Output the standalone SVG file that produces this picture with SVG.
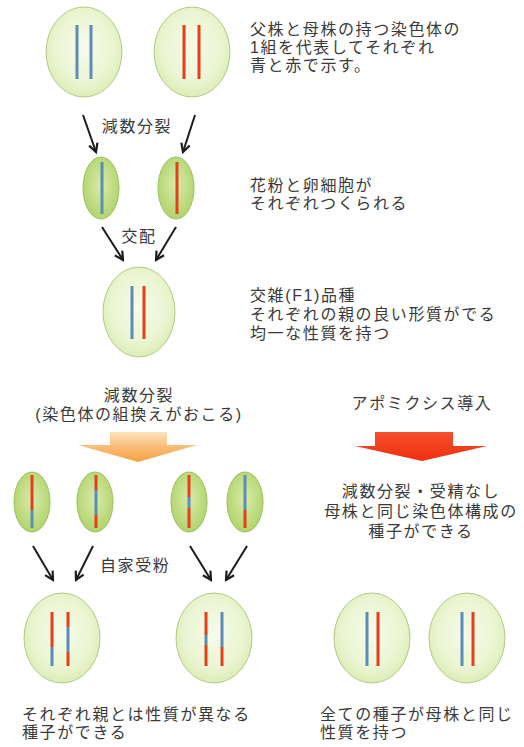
<svg xmlns="http://www.w3.org/2000/svg" width="524" height="747" viewBox="0 0 524 747">
  <style>
    text { font-family: "Liberation Sans", "Noto Sans CJK JP", sans-serif; font-size: 16px; fill: #3a3a3a; letter-spacing: 1.6px; }
    .mid { text-anchor: middle; }
    .cell { fill: url(#cellFill); stroke: #b3c98a; stroke-width: 1; }
    .gamete { fill: url(#gameteFill); stroke: #9cbf62; stroke-width: 1; }
    .b { stroke: #5d8db5; stroke-width: 3; fill: none; }
    .r { stroke: #e4401c; stroke-width: 3; fill: none; }
    .arrow { stroke: #1c1c1c; stroke-width: 2; fill: none; marker-end: url(#head); }
  </style>
  <defs>
    <radialGradient id="cellFill" cx="50%" cy="45%" r="55%">
      <stop offset="0" stop-color="#f6fbe9"/>
      <stop offset="0.7" stop-color="#ebf5d2"/>
      <stop offset="1" stop-color="#dcedb6"/>
    </radialGradient>
    <radialGradient id="gameteFill" cx="50%" cy="45%" r="55%">
      <stop offset="0" stop-color="#d9ebac"/>
      <stop offset="1" stop-color="#b2d46c"/>
    </radialGradient>
    <linearGradient id="orangeFill" x1="0" y1="0" x2="0" y2="1">
      <stop offset="0" stop-color="#fde2bd"/>
      <stop offset="0.5" stop-color="#f9bd77"/>
      <stop offset="1" stop-color="#f6a040"/>
    </linearGradient>
    <linearGradient id="redFill" x1="0" y1="0" x2="0" y2="1">
      <stop offset="0" stop-color="#f5502c"/>
      <stop offset="1" stop-color="#ee2f10"/>
    </linearGradient>
    <marker id="head" viewBox="0 0 10 10" refX="8.5" refY="5" markerWidth="11" markerHeight="11" markerUnits="userSpaceOnUse" orient="auto">
      <path d="M1,1 L8.5,5 L1,9" fill="none" stroke="#1c1c1c" stroke-width="2"/>
    </marker>
  </defs>

  <!-- parent plants -->
  <g id="father">
    <ellipse class="cell" cx="84" cy="52" rx="38" ry="45"/>
    <line class="b" x1="77" y1="25" x2="77" y2="79"/>
    <line class="b" x1="91" y1="25" x2="91" y2="79"/>
  </g>
  <g id="mother">
    <ellipse class="cell" cx="192" cy="52" rx="38" ry="45"/>
    <line class="r" x1="184" y1="25" x2="184" y2="79"/>
    <line class="r" x1="199" y1="25" x2="199" y2="79"/>
  </g>
  <g id="note-parents">
    <text x="250" y="35">父株と母株の持つ染色体の<tspan x="250" dy="18">1組を代表してそれぞれ</tspan><tspan x="250" dy="18">青と赤で示す。</tspan></text>
  </g>

  <!-- gametes -->
  <g id="pollen">
    <ellipse class="gamete" cx="101" cy="188" rx="18" ry="31"/>
    <line class="b" x1="102" y1="162" x2="102" y2="214"/>
  </g>
  <g id="egg">
    <ellipse class="gamete" cx="176" cy="188" rx="18" ry="31"/>
    <line class="r" x1="177" y1="162" x2="177" y2="214"/>
  </g>
  <g id="note-gametes">
    <text x="250" y="191">花粉と卵細胞が<tspan x="250" dy="18">それぞれつくられる</tspan></text>
  </g>

  <!-- F1 hybrid -->
  <g id="f1">
    <ellipse class="cell" cx="139" cy="312" rx="36" ry="45"/>
    <line class="b" x1="132" y1="286" x2="132" y2="339"/>
    <line class="r" x1="144" y1="286" x2="144" y2="339"/>
  </g>
  <g id="note-f1">
    <text x="250" y="301">交雑(F1)品種<tspan x="250" dy="19">それぞれの親の良い形質がでる</tspan><tspan x="250" dy="19">均一な性質を持つ</tspan></text>
  </g>

  <!-- sexual route -->
  <g id="meiosis-label">
    <text class="mid" x="139" y="401">減数分裂<tspan x="139" dy="19">(染色体の組換えがおこる)</tspan></text>
  </g>
  <g id="orange-arrow">
    <path d="M110,432 H167 V445 H197 L138,462 L78,445 H110 Z" fill="url(#orangeFill)"/>
  </g>

  <g id="gamete-1">
    <ellipse class="gamete" cx="32" cy="502" rx="18" ry="30"/>
    <line class="r" x1="32" y1="475" x2="32" y2="510"/>
    <line class="b" x1="32" y1="510" x2="32" y2="528"/>
  </g>
  <g id="gamete-2">
    <ellipse class="gamete" cx="95" cy="502" rx="18" ry="30"/>
    <line class="r" x1="96" y1="475" x2="96" y2="490"/>
    <line class="b" x1="96" y1="490" x2="96" y2="515"/>
    <line class="r" x1="96" y1="515" x2="96" y2="528"/>
  </g>
  <g id="gamete-3">
    <ellipse class="gamete" cx="189" cy="502" rx="18" ry="30"/>
    <line class="r" x1="189" y1="475" x2="189" y2="497"/>
    <line class="b" x1="189" y1="497" x2="189" y2="508"/>
    <line class="r" x1="189" y1="508" x2="189" y2="528"/>
  </g>
  <g id="gamete-4">
    <ellipse class="gamete" cx="245" cy="502" rx="18" ry="30"/>
    <line class="b" x1="245" y1="475" x2="245" y2="510"/>
    <line class="r" x1="245" y1="510" x2="245" y2="528"/>
  </g>

  <g id="selfing-label">
    <text x="100" y="571">自家受粉</text>
  </g>

  <g id="offspring-1">
    <ellipse class="cell" cx="62" cy="638" rx="38" ry="45"/>
    <line class="r" x1="52" y1="612" x2="52" y2="647"/>
    <line class="b" x1="52" y1="647" x2="52" y2="666"/>
    <line class="r" x1="68" y1="612" x2="68" y2="627"/>
    <line class="b" x1="68" y1="627" x2="68" y2="652"/>
    <line class="r" x1="68" y1="652" x2="68" y2="666"/>
  </g>
  <g id="offspring-2">
    <ellipse class="cell" cx="214" cy="638" rx="38" ry="45"/>
    <line class="r" x1="206" y1="612" x2="206" y2="635"/>
    <line class="b" x1="206" y1="635" x2="206" y2="645"/>
    <line class="r" x1="206" y1="645" x2="206" y2="666"/>
    <line class="b" x1="222" y1="612" x2="222" y2="647"/>
    <line class="r" x1="222" y1="647" x2="222" y2="666"/>
  </g>
  <g id="note-sexual">
    <text x="22" y="720">それぞれ親とは性質が異なる<tspan x="22" dy="18">種子ができる</tspan></text>
  </g>

  <!-- apomictic route -->
  <g id="apomixis-label">
    <text class="mid" x="422" y="409">アポミクシス導入</text>
  </g>
  <g id="red-arrow">
    <path d="M375,432 H453 V446 H487 L422,461 L355,446 H375 Z" fill="url(#redFill)"/>
  </g>
  <g id="note-apomixis">
    <text class="mid" x="421" y="497">減数分裂・受精なし<tspan x="421" dy="20">母株と同じ染色体構成の</tspan><tspan x="421" dy="20">種子ができる</tspan></text>
  </g>
  <g id="clone-1">
    <ellipse class="cell" cx="372" cy="638" rx="38" ry="45"/>
    <line class="b" x1="367" y1="612" x2="367" y2="666"/>
    <line class="r" x1="378" y1="612" x2="378" y2="666"/>
  </g>
  <g id="clone-2">
    <ellipse class="cell" cx="467" cy="638" rx="38" ry="45"/>
    <line class="b" x1="462" y1="612" x2="462" y2="666"/>
    <line class="r" x1="473" y1="612" x2="473" y2="666"/>
  </g>
  <g id="note-clones">
    <text x="320" y="720">全ての種子が母株と同じ<tspan x="320" dy="18">性質を持つ</tspan></text>
  </g>

  <!-- connectors -->
  <g id="connectors">
    <line class="arrow" x1="83" y1="115" x2="96" y2="152"/>
    <line class="arrow" x1="195" y1="115" x2="183" y2="152"/>
    <text class="mid" x="137" y="132">減数分裂</text>
    <line class="arrow" x1="102" y1="227" x2="123" y2="260"/>
    <line class="arrow" x1="176" y1="227" x2="156" y2="260"/>
    <text class="mid" x="139" y="242">交配</text>
    <line class="arrow" x1="33" y1="546" x2="53" y2="580"/>
    <line class="arrow" x1="93" y1="546" x2="76" y2="580"/>
    <line class="arrow" x1="190" y1="546" x2="211" y2="580"/>
    <line class="arrow" x1="247" y1="546" x2="226" y2="580"/>
  </g>
</svg>
